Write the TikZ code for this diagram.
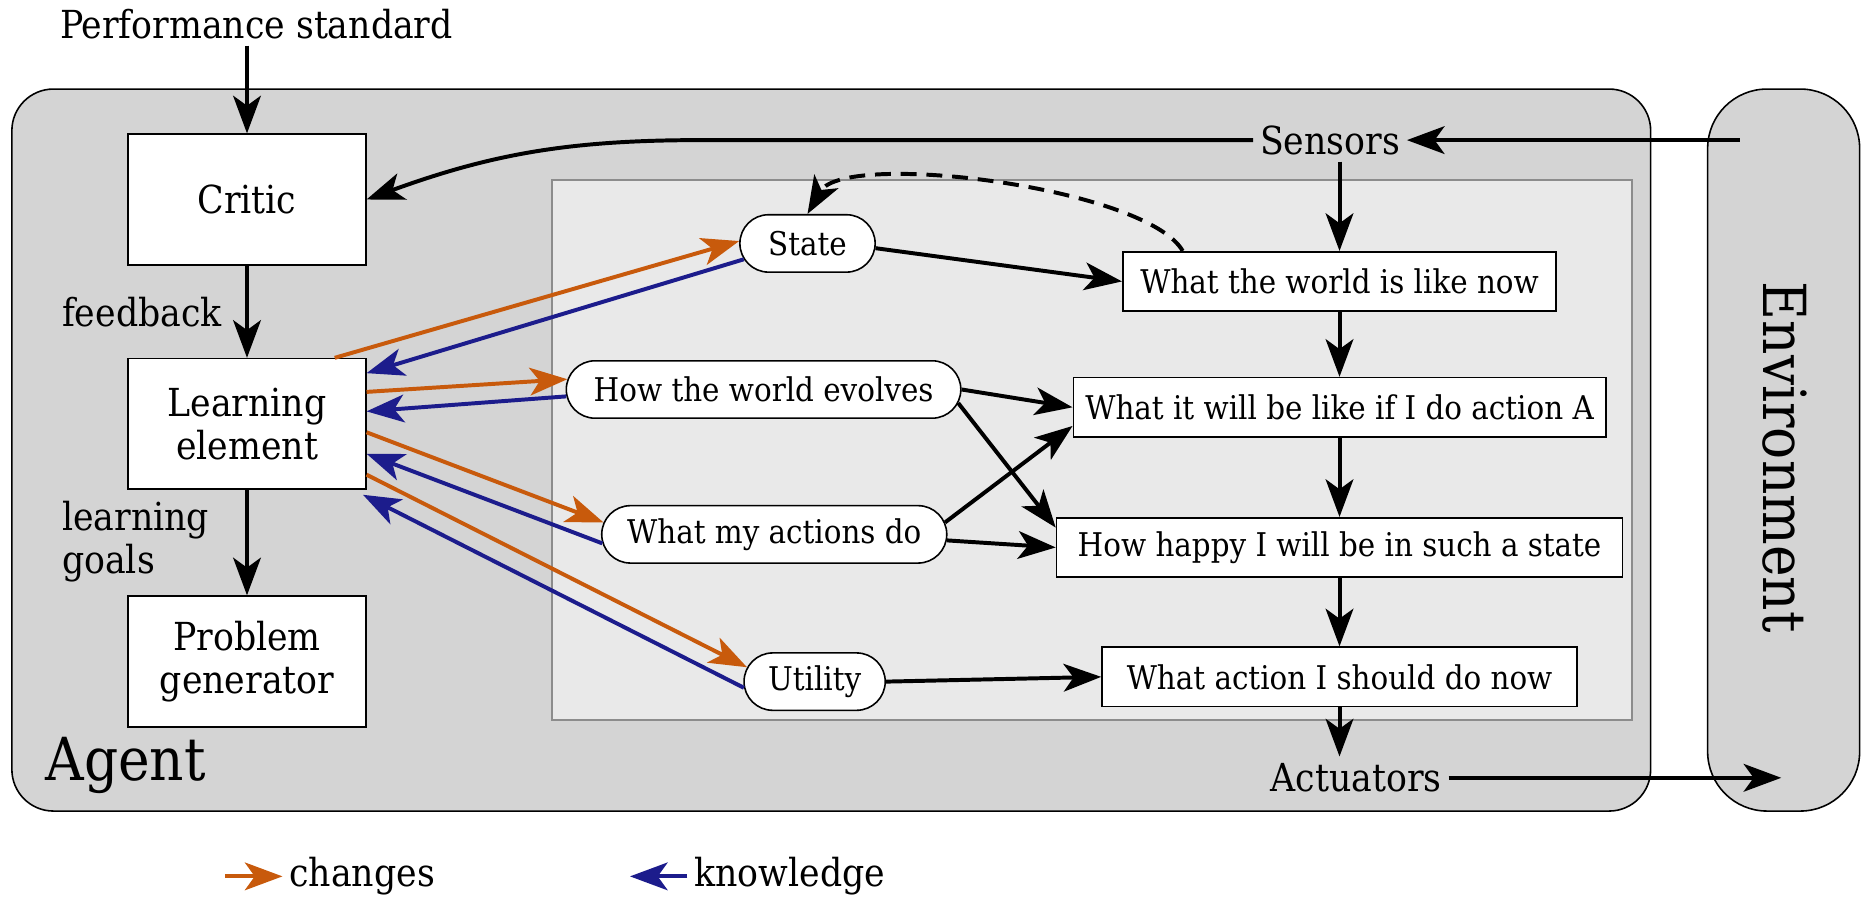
\documentclass[tikz,border=0pt]{standalone}
\usepackage{fontspec}
\setmainfont{DejaVu Serif Condensed}
\usetikzlibrary{arrows.meta,positioning,calc,shapes.misc}

\definecolor{chgorange}{RGB}{200,90,12}
\definecolor{knowblue}{RGB}{28,28,140}
\definecolor{agentgray}{RGB}{212,212,212}
\definecolor{innergray}{RGB}{233,233,233}
\definecolor{innerline}{RGB}{140,140,140}

\tikzset{
  outer/.style={font=\fontsize{19.5}{22}\selectfont},
  big/.style={font=\fontsize{30}{33}\selectfont},
  unit/.style={draw, fill=white, line width=0.8pt, minimum width=120pt,
    minimum height=66pt, align=center, outer},
  world/.style={draw, fill=white, line width=0.8pt, minimum height=30pt,
    font=\fontsize{16.5}{18}\selectfont},
  model/.style={draw, fill=white, rounded rectangle, line width=0.8pt,
    minimum height=29pt, font=\fontsize{16.5}{18}\selectfont},
  frame/.style={draw, fill=agentgray, line width=0.8pt},
  arr/.style={-{Stealth[length=19pt,width=14pt,inset=5pt]}, line width=2pt},
  changes/.style={arr, chgorange, -{Stealth[length=19pt,width=14pt,inset=5pt]}},
  knows/.style={arr, knowblue, -{Stealth[length=19pt,width=14pt,inset=5pt]}},
}

\begin{document}
\begin{tikzpicture}[x=0.6pt,y=0.6pt]
    \useasboundingbox (0,0) rectangle (1568,755);

    % containers
    \draw[frame, rounded corners=21pt] (10,72) rectangle (1390,680);
    \draw[frame, rounded corners=30pt] (1438,72) rectangle (1566,680);
    \draw[fill=innergray, draw=innerline, line width=1pt] (465,149) rectangle (1374,603);

    % Define nodes
    \node[outer] (perf) at (216,735) {Performance standard};
    \node[unit] (critic) at (208,587) {Critic};
    \node[unit] (learn) at (208,398) {Learning\\element};
    \node[unit] (problem) at (208,198) {Problem\\generator};
    \node[outer, anchor=west, inner sep=0pt] (fb) at (52,492) {feedback};
    \node[outer, anchor=west, inner sep=0pt, align=left] (goals) at (52,299) {learning\\goals};
    \node[big, anchor=west, inner sep=0pt] (agent) at (38,110) {Agent};
    \node[big, rotate=-90] (env) at (1503,370) {Environment};
    \node[outer] (sensors) at (1120,637) {Sensors};
    \node[outer] (actuators) at (1142,100) {Actuators};

    \node[world, minimum width=219pt] (world) at (1128,518) {What the world is like now};
    \node[world, minimum width=269pt] (whatif) at (1128,412) {What it will be like if I do action A};
    \node[world, minimum width=286pt] (happy) at (1128,294) {How happy I will be in such a state};
    \node[world, minimum width=240pt] (decide) at (1128,185) {What action I should do now};

    \node[model, minimum width=75pt] (state) at (680,550) {State};
    \node[model, minimum width=206pt] (evolves) at (643,427) {How the world evolves};
    \node[model, minimum width=181pt] (actions) at (652,305) {What my actions do};
    \node[model, minimum width=78pt] (utility) at (686,181) {Utility};

    \coordinate (envin) at (1465,637);
    \coordinate (envout) at (1500,100);
    \coordinate (bend) at (590,637);

    % Connect nodes
    \draw[arr] (critic.north |- perf.south) -- (critic.north);
    \draw[arr] (critic.south) -- (learn.north);
    \draw[arr] (learn.south) -- (problem.north);
    \draw[arr] (envin) -- (sensors.east);
    \draw[arr] (sensors.west) -- (bend) to[out=180,in=20] (critic.east);
    \draw[arr] (world.north |- sensors.south) -- (world.north);
    \draw[arr] (world.south) -- (whatif.north);
    \draw[arr] (whatif.south) -- (happy.north);
    \draw[arr] (happy.south) -- (decide.north);
    \draw[arr] (decide.south) -- (decide.south |- actuators.north);
    \draw[arr] (actuators.east) -- (envout);

    \draw[arr] (state.356) -- (world.west);
    \draw[arr] (evolves.east) -- (whatif.west);
    \draw[arr] (evolves.356) -- (happy.176);
    \draw[arr] (actions.4) -- (whatif.184);
    \draw[arr] (actions.358) -- (happy.west);
    \draw[arr] (utility.east) -- (decide.west);
    \draw[arr, dash pattern=on 8pt off 5pt] (world.169) to[out=120,in=60,looseness=0.5] (state.north);

    % learning element links
    \draw[changes] (learn.37) -- (state.178);
    \draw[knows] (state.194) -- (learn.23);
    \draw[changes] (learn.15) -- (evolves.177);
    \draw[knows] (evolves.182) -- (learn.6);
    \draw[changes] (learn.356) -- (actions.176);
    \draw[knows] (actions.183) -- (learn.346);
    \draw[changes] (learn.337) -- (utility.168);
    \draw[knows] (utility.185) -- ($(learn.south east)+(-3,-4)$);

    % legend
    \node[outer] (chg) at (305,17) {changes};
    \node[outer] (knw) at (665,17) {knowledge};
    \draw[changes] ([xshift=-29pt]chg.west) -- (chg.west);
    \draw[knows] (knw.west) -- ([xshift=-29pt]knw.west);
\end{tikzpicture}
\end{document}
